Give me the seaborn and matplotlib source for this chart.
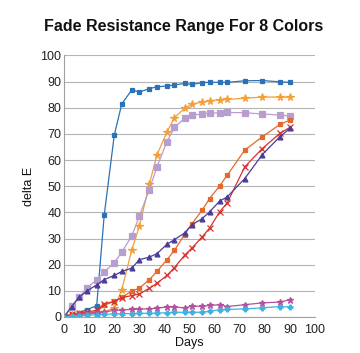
import matplotlib
matplotlib.use("Agg")
import matplotlib.pyplot as plt
import seaborn as sns
import pandas as pd

days = [0, 3, 6, 9, 13, 16, 20, 23, 27, 30, 34, 37, 41, 44, 48, 51, 55, 58, 62, 65, 72, 79, 86, 90]

blue = [0, 1, 1.5, 2.8, 4.3, 39, 69.5, 81.5, 86.8, 86, 87.3, 88, 88.3, 88.7, 89.3, 88.9, 89.6, 89.7, 89.7, 89.7, 90.3, 90.4, 89.9, 89.7]
orange = [0, 0.8, 1, 1.2, 1.5, 2, 3.5, 10.5, 25.7, 34.7, 50.8, 61.9, 70.8, 76.2, 79.8, 81.4, 82.1, 82.7, 83, 83.2, 83.6, 84.1, 84.1, 84]
lilac = [0, 4.3, 7.5, 11, 14.3, 17.2, 20.8, 24.8, 31, 38.6, 48.7, 57.4, 67, 72.5, 75.9, 77.2, 77.6, 77.9, 78.1, 78.2, 78.1, 77.6, 77.2, 76.8]
rust = [0, 0.5, 1, 1.5, 2, 4.5, 6, 7.5, 9.9, 11, 14.3, 17.4, 21.9, 25.5, 31.5, 35.7, 40.8, 45.3, 50.1, 54.2, 63.8, 68.9, 73.6, 75.3]
red = [0, 1, 1.5, 2, 2.5, 5.1, 5.9, 7.4, 8.2, 8.8, 11, 12.9, 15.9, 18.9, 23.6, 26.4, 30.6, 34, 40.2, 43.6, 57.4, 64.4, 70.2, 72.5]
indigo = [0, 4, 7.5, 9.9, 12.3, 14.3, 15.9, 17.4, 18.7, 21.9, 22.9, 24.2, 27.8, 29.6, 32.1, 35.3, 37.6, 40.2, 44.3, 45.9, 52.9, 62.1, 68.9, 72.1]
magenta = [0, 0.5, 1, 1.3, 1.6, 2, 2.5, 2.7, 2.9, 3, 3.1, 3.4, 3.8, 3.8, 3.5, 4.1, 4.1, 4.4, 4.7, 4.0, 4.7, 5.4, 5.7, 6.6]
skyblue = [0, 0.3, 0.5, 0.7, 0.9, 1, 1.2, 1.3, 1.3, 1.4, 1.4, 1.5, 1.6, 1.8, 1.8, 1.8, 1.8, 2.2, 2.8, 2.9, 3.1, 3.5, 4.0, 3.8]

series = [
    ("blue", blue, "#2B72B8", "s", 3.2),
    ("orange", orange, "#F2A03A", "*", 5.5),
    ("lilac", lilac, "#B89ECF", "s", 4.2),
    ("rust", rust, "#E4692E", "s", 3.5),
    ("red", red, "#D6312F", "x", 4),
    ("indigo", indigo, "#4B3D98", "^", 3.5),
    ("magenta", magenta, "#B4509E", "*", 4.5),
    ("skyblue", skyblue, "#3DB3E4", "P", 3.5),
]

sns.set_theme(style="white")
plt.rcParams["font.family"] = ["Liberation Sans", "DejaVu Sans"]

fig = plt.figure(figsize=(3.6, 3.53), dpi=100)
ax = fig.add_axes([0.178, 0.102, 0.697, 0.741])

for name, vals, col, mk, ms in series:
    df = pd.DataFrame({"Days": days, "delta E": vals})
    sns.lineplot(data=df, x="Days", y="delta E", ax=ax, color=col, marker=mk,
                 markersize=ms, markeredgecolor=col, markeredgewidth=0.9,
                 linewidth=0.9, legend=False)

ax.set_xlim(0, 100)
ax.set_ylim(0, 100)
ax.set_xticks(range(0, 101, 10))
ax.set_yticks(range(0, 101, 10))
ax.tick_params(axis="both", labelsize=9, colors="#222222", length=0, pad=2)
ax.tick_params(axis="x", length=3, color="#A0A0A0", direction="out", pad=2)
ax.grid(axis="y", color="#B4B4B4", linewidth=0.8)
ax.set_axisbelow(True)
for s in ["top", "right"]:
    ax.spines[s].set_visible(False)
for s in ["left", "bottom"]:
    ax.spines[s].set_color("#A0A0A0")
    ax.spines[s].set_linewidth(0.8)
ax.set_xlabel("Days", fontsize=9, labelpad=1, color="#111111")
ax.set_ylabel("delta E", fontsize=9, labelpad=4, color="#111111")
fig.suptitle("Fade Resistance Range For 8 Colors", fontsize=11.5, fontweight="bold",
             x=0.51, y=0.945, color="#111111")

fig.savefig("out.png", dpi=100)
